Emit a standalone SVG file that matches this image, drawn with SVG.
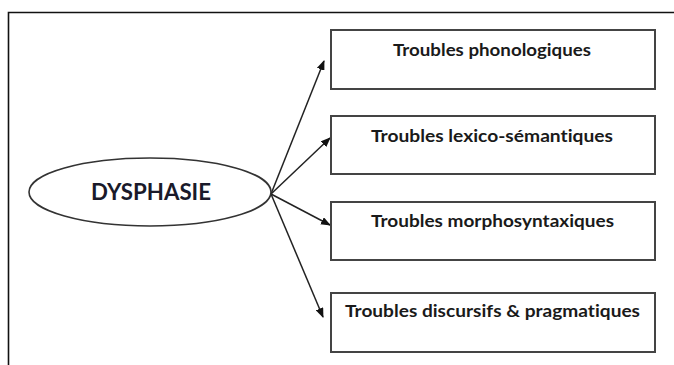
<svg xmlns="http://www.w3.org/2000/svg" width="674" height="365" viewBox="0 0 674 365">
<defs>
<style>
.frame{fill:none;stroke:#111;stroke-width:1.6}
.box{fill:#fff;stroke:#444;stroke-width:2}
.lbl{font-family:Lato,"Liberation Sans",sans-serif;font-weight:bold;font-size:17.5px;fill:#1a1a1a;text-anchor:middle;font-variant-ligatures:none}
.main{font-family:Lato,"Liberation Sans",sans-serif;font-weight:bold;font-size:22px;fill:#1a1a2a;text-anchor:middle}
.conn{stroke:#222;stroke-width:1.5;fill:none;marker-end:url(#ah)}
</style>
<marker id="ah" markerWidth="10" markerHeight="8" refX="9" refY="4" orient="auto" markerUnits="userSpaceOnUse">
<path d="M0,0 L10,4 L0,8 z" fill="#111"/>
</marker>
</defs>
<rect width="674" height="365" fill="#fff"/>
<path class="frame" d="M8.5,365 V12.5 H674"/>
<g id="connectors">
<line class="conn" x1="271" y1="194" x2="324" y2="61"/>
<line class="conn" x1="271" y1="194" x2="330" y2="138"/>
<line class="conn" x1="271" y1="194" x2="330" y2="225"/>
<line class="conn" x1="271" y1="194" x2="323" y2="317"/>
</g>
<g id="dysphasie">
<ellipse cx="150" cy="192" rx="121" ry="34" fill="#fff" stroke="#333" stroke-width="1.6"/>
<text class="main" x="151" y="199.5" textLength="120" lengthAdjust="spacingAndGlyphs">DYSPHASIE</text>
</g>
<g id="phonologiques">
<rect class="box" x="331" y="30" width="324" height="59"/>
<text class="lbl" x="492" y="56" textLength="198" lengthAdjust="spacingAndGlyphs">Troubles phonologiques</text>
</g>
<g id="lexico">
<rect class="box" x="331" y="116" width="324" height="58"/>
<text class="lbl" x="492" y="142" textLength="242" lengthAdjust="spacingAndGlyphs">Troubles lexico-sémantiques</text>
</g>
<g id="morpho">
<rect class="box" x="331" y="202" width="324" height="58"/>
<text class="lbl" x="492.5" y="227" textLength="243" lengthAdjust="spacingAndGlyphs">Troubles morphosyntaxiques</text>
</g>
<g id="discursifs">
<rect class="box" x="331" y="293" width="324" height="59"/>
<text class="lbl" x="492.5" y="317" textLength="295" lengthAdjust="spacingAndGlyphs">Troubles discursifs &amp; pragmatiques</text>
</g>
</svg>
